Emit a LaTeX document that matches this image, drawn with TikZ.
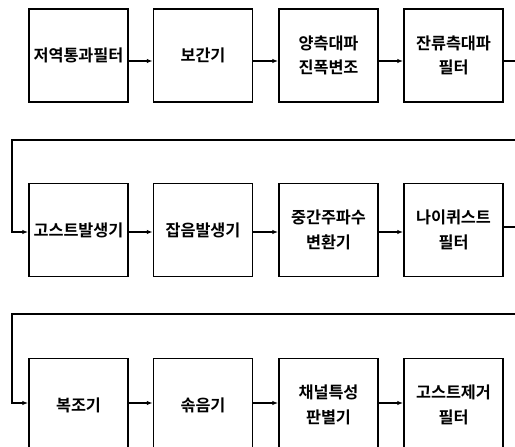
\documentclass[tikz,border=0pt]{standalone}
\usepackage{fontspec}
\setmainfont{Noto Sans CJK KR}[BoldFont={Noto Sans CJK KR Bold}]
\usetikzlibrary{arrows.meta}
\begin{document}
\begin{tikzpicture}[x=1pt,y=-1pt,
  blk/.style={draw,line width=1.5pt,minimum width=99pt,minimum height=93pt,inner sep=0pt,align=center,font=\fontsize{16.3}{24.5}\selectfont\bfseries},
  arr/.style={line width=1.4pt,-{Latex[length=6pt,width=4.5pt]}}]
\useasboundingbox (0,0) rectangle (515,447);
\clip (0,0) rectangle (515,447);
% row 1
\node[blk] (b1) at (78.5,55.5) {저역통과필터};
\node[blk] (b2) at (203,55.5) {보간기};
\node[blk] (b3) at (328.5,55.5) {양측대파\\진폭변조};
\node[blk] (b4) at (453.5,55.5) {잔류측대파\\필터};
% row 2
\node[blk] (b5) at (78.5,230) {고스트발생기};
\node[blk] (b6) at (203,230) {잡음발생기};
\node[blk] (b7) at (328.5,230) {중간주파수\\변환기};
\node[blk] (b8) at (453.5,230) {나이퀴스트\\필터};
% row 3
\node[blk] (b9) at (78.5,405) {복조기};
\node[blk] (b10) at (203,405) {솎음기};
\node[blk] (b11) at (328.5,405) {채널특성\\판별기};
\node[blk] (b12) at (453.5,405) {고스트제거\\필터};
% connectors row 1
\draw[arr] ([yshift=-5.5pt]b1.east) -- ([yshift=-5.5pt]b2.west);
\draw[arr] ([yshift=-5.5pt]b2.east) -- ([yshift=-5.5pt]b3.west);
\draw[arr] ([yshift=-5.5pt]b3.east) -- ([yshift=-5.5pt]b4.west);
\coordinate (r1) at (525,140);
\coordinate (l1) at (12,140);
\draw[arr] ([yshift=-5.5pt]b4.east) -| (r1) -- (l1) |- ([yshift=-2pt]b5.west);
% row 2
\draw[arr] ([yshift=-2pt]b5.east) -- ([yshift=-2pt]b6.west);
\draw[arr] ([yshift=-2pt]b6.east) -- ([yshift=-2pt]b7.west);
\draw[arr] ([yshift=-2pt]b7.east) -- ([yshift=-2pt]b8.west);
\coordinate (r2) at (525,314);
\coordinate (l2) at (12,314);
\draw[arr] ([yshift=3pt]b8.east) -| (r2) -- (l2) |- ([yshift=2pt]b9.west);
% row 3
\draw[arr] ([yshift=2pt]b9.east) -- ([yshift=2pt]b10.west);
\draw[arr] ([yshift=2pt]b10.east) -- ([yshift=2pt]b11.west);
\draw[arr] ([yshift=2pt]b11.east) -- ([yshift=2pt]b12.west);
\end{tikzpicture}
\end{document}
